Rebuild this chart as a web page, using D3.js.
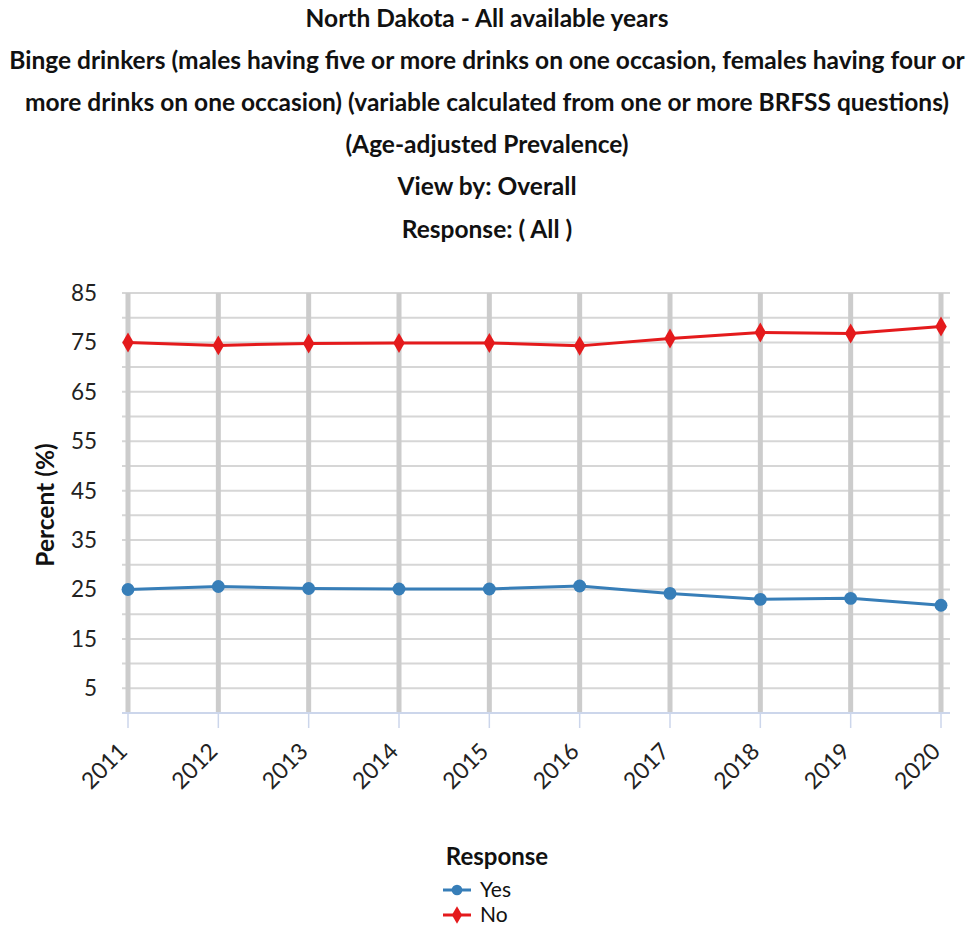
<!DOCTYPE html>
<html>
<head>
<meta charset="utf-8">
<script src="https://cdn.jsdelivr.net/npm/d3@7"></script>
<style>
  body { margin: 0; background: #fff; }
  text { font-family: Lato, "Open Sans", sans-serif; }
</style>
</head>
<body>
<svg id="chart" width="972" height="932"></svg>
<script>
// data
const titleLines = [
  'North Dakota - All available years',
  'Binge drinkers (males having five or more drinks on one occasion, females having four or',
  'more drinks on one occasion) (variable calculated from one or more BRFSS questions)',
  '(Age-adjusted Prevalence)',
  'View by: Overall',
  'Response: ( All )'
];
const years = ['2011', '2012', '2013', '2014', '2015', '2016', '2017', '2018', '2019', '2020'];
const yesValues = [25.0, 25.6, 25.2, 25.1, 25.1, 25.7, 24.2, 23.0, 23.2, 21.8];
const noValues = [75.0, 74.4, 74.8, 74.9, 74.9, 74.3, 75.8, 77.0, 76.8, 78.2];
const yTickLabels = [5, 15, 25, 35, 45, 55, 65, 75, 85];
const gridValues = d3.range(0, 86, 5);

const series = [
  { name: 'Yes', values: yesValues, color: '#377eb8', symbol: d3.symbolCircle },
  { name: 'No', values: noValues, color: '#e41a1c', symbol: d3.symbolDiamond }
];

const svg = d3.select('#chart');
const width = +svg.attr('width');

const x = d3.scalePoint().domain(years).range([128, 941]);
const y = d3.scaleLinear().domain([0, 85]).range([713, 293]);
const plotLeft = 122, plotRight = 950;

// titles
svg.append('g')
  .selectAll('text')
  .data(titleLines)
  .join('text')
  .attr('x', width / 2 + 1)
  .attr('y', (d, i) => 18 + i * 42.2)
  .attr('dy', '0.35em')
  .attr('text-anchor', 'middle')
  .style('font-size', '24.5px')
  .style('font-weight', 'bold')
  .style('fill', '#111')
  .text(d => d);

// horizontal grid
svg.append('g')
  .selectAll('line')
  .data(gridValues.filter(v => v > 0))
  .join('line')
  .attr('x1', plotLeft)
  .attr('x2', plotRight)
  .attr('y1', d => y(d))
  .attr('y2', d => y(d))
  .attr('stroke', '#d6d6d6')
  .attr('stroke-width', 2);

// vertical grid (thick)
svg.append('g')
  .selectAll('line')
  .data(years)
  .join('line')
  .attr('x1', d => x(d))
  .attr('x2', d => x(d))
  .attr('y1', y(85))
  .attr('y2', y(0))
  .attr('stroke', '#cccccc')
  .attr('stroke-width', 5);

// x axis
const xAxis = svg.append('g')
  .attr('transform', `translate(0,${y(0)})`);
xAxis.append('line')
  .attr('x1', plotLeft)
  .attr('x2', plotRight)
  .attr('stroke', '#ccd6eb')
  .attr('stroke-width', 2);
xAxis.selectAll('.tick')
  .data(years)
  .join('line')
  .attr('x1', d => x(d))
  .attr('x2', d => x(d))
  .attr('y1', 0)
  .attr('y2', 15)
  .attr('stroke', '#ccd6eb')
  .attr('stroke-width', 1.5);
xAxis.selectAll('text')
  .data(years)
  .join('text')
  .attr('transform', d => `translate(${x(d) - 5},${34}) rotate(-45)`)
  .attr('text-anchor', 'end')
  .attr('dy', '0.35em')
  .style('font-size', '23px')
  .style('fill', '#222')
  .text(d => d);

// y axis labels
svg.append('g')
  .selectAll('text')
  .data(yTickLabels)
  .join('text')
  .attr('x', 97)
  .attr('y', d => y(d))
  .attr('dy', '0.35em')
  .attr('text-anchor', 'end')
  .style('font-size', '22.5px')
  .style('fill', '#222')
  .text(d => d);

svg.append('text')
  .attr('transform', `translate(45,${y(42.5) + 2}) rotate(-90)`)
  .attr('text-anchor', 'middle')
  .attr('dy', '0.35em')
  .style('font-size', '24.5px')
  .style('font-weight', 'bold')
  .style('fill', '#111')
  .text('Percent (%)');

// series
const line = d3.line()
  .x((d, i) => x(years[i]))
  .y(d => y(d));

series.forEach(s => {
  const g = svg.append('g');
  g.append('path')
    .datum(s.values)
    .attr('d', line)
    .attr('fill', 'none')
    .attr('stroke', s.color)
    .attr('stroke-width', 3);
  g.selectAll('path.marker')
    .data(s.values)
    .join('path')
    .attr('class', 'marker')
    .attr('transform', (d, i) => `translate(${x(years[i])},${y(d)})`)
    .attr('d', d3.symbol().type(s.symbol).size(s.symbol === d3.symbolCircle ? 130 : 115))
    .attr('fill', s.color);
});

// legend
const legend = svg.append('g');
legend.append('text')
  .attr('x', 497)
  .attr('y', 857)
  .attr('dy', '0.35em')
  .attr('text-anchor', 'middle')
  .style('font-size', '24px')
  .style('font-weight', 'bold')
  .style('fill', '#111')
  .text('Response');

const items = legend.selectAll('g.item')
  .data(series)
  .join('g')
  .attr('class', 'item')
  .attr('transform', (d, i) => `translate(443,${890 + i * 25})`);
items.append('line')
  .attr('x1', 0)
  .attr('x2', 28)
  .attr('stroke', d => d.color)
  .attr('stroke-width', 3);
items.append('path')
  .attr('transform', 'translate(14,0)')
  .attr('d', d => d3.symbol().type(d.symbol).size(90)())
  .attr('fill', d => d.color);
items.append('text')
  .attr('x', 37)
  .attr('dy', '0.35em')
  .style('font-size', '21px')
  .style('fill', '#111')
  .text(d => d.name);
</script>
</body>
</html>
